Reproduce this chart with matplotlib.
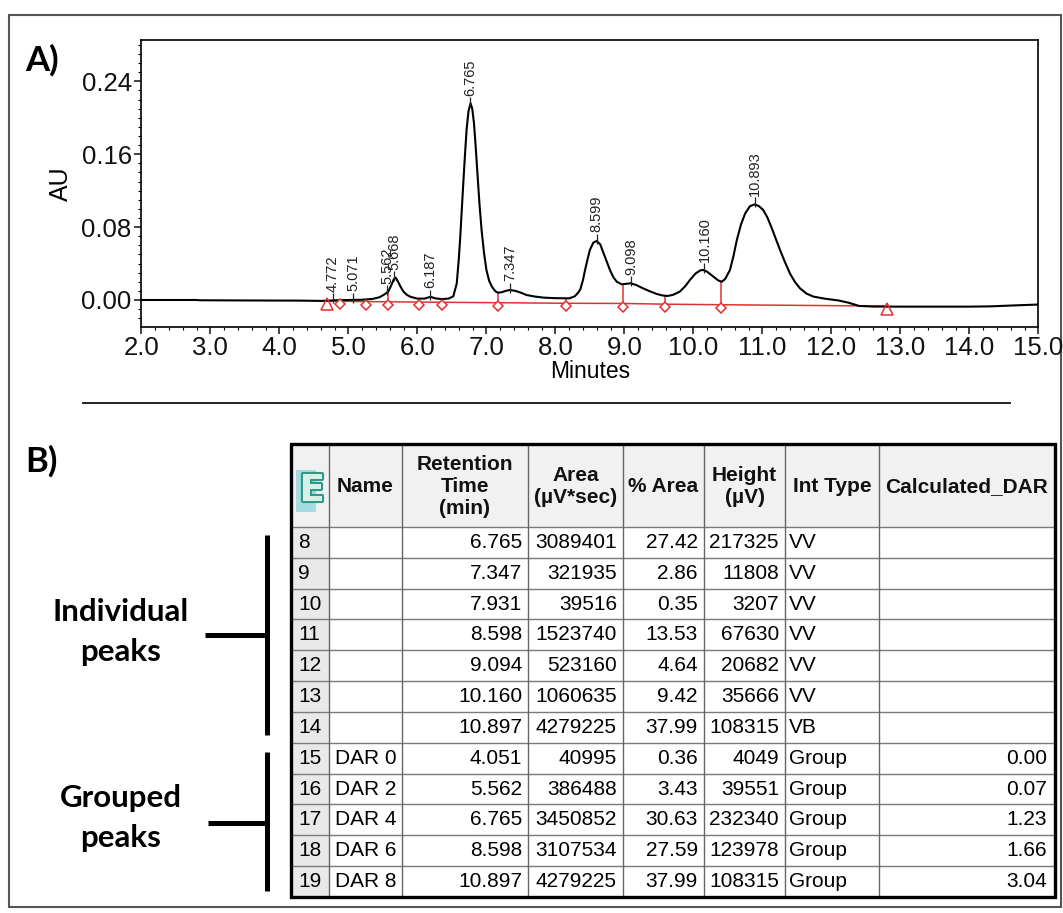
import numpy as np
import matplotlib
matplotlib.use('Agg')
import matplotlib.pyplot as plt
from matplotlib.patches import Rectangle
from matplotlib.ticker import MultipleLocator, FormatStrFormatter
import matplotlib.patheffects as pe

plt.rcParams['font.family'] = ['Liberation Sans', 'DejaVu Sans']

# --- chromatogram trace (minutes, AU)
trace_t = [2.00, 2.80, 2.85, 3.50, 4.30, 4.60, 4.70, 4.80, 5.00, 5.20, 5.35, 5.45,
           5.52, 5.58, 5.62, 5.66, 5.685, 5.72, 5.76, 5.80, 5.85, 5.90, 6.00, 6.10,
           6.19, 6.26, 6.35, 6.45, 6.52, 6.57, 6.60, 6.62, 6.665, 6.69, 6.713, 6.74,
           6.77, 6.795, 6.82, 6.845, 6.87, 6.90, 6.93, 6.965, 7.00, 7.04, 7.08, 7.13,
           7.17, 7.22, 7.28, 7.34, 7.42, 7.50, 7.58, 7.70, 7.83, 8.00, 8.20, 8.28,
           8.33, 8.36, 8.40, 8.43, 8.47, 8.50, 8.55, 8.60, 8.65, 8.69, 8.74, 8.79,
           8.84, 8.89, 8.96, 9.03, 9.09, 9.17, 9.27, 9.37, 9.47, 9.55, 9.62, 9.70,
           9.80, 9.88, 9.95, 10.03, 10.10, 10.14, 10.20, 10.29, 10.36, 10.41, 10.46,
           10.53, 10.58, 10.63, 10.69, 10.75, 10.82, 10.89, 10.95, 11.01, 11.07,
           11.13, 11.19, 11.255, 11.33, 11.40, 11.47, 11.545, 11.64, 11.74, 11.90,
           12.10, 12.25, 12.40, 12.60, 13.00, 14.00, 14.30, 14.70, 15.00]
trace_au = [0.0000, 0.0000, -0.0003, -0.0005, -0.0007, -0.0010, -0.0008, -0.0003,
            0.0000, 0.0003, 0.0012, 0.0030, 0.0060, 0.0095, 0.0160, 0.0230, 0.0245,
            0.0200, 0.0140, 0.0090, 0.0055, 0.0035, 0.0015, 0.0015, 0.0035, 0.0018,
            0.0010, 0.0015, 0.0040, 0.0180, 0.0450, 0.0680, 0.1280, 0.1600, 0.1870,
            0.2070, 0.2160, 0.2100, 0.1940, 0.1680, 0.1390, 0.1050, 0.0770, 0.0520,
            0.0330, 0.0210, 0.0146, 0.0095, 0.0080, 0.0085, 0.0100, 0.0110, 0.0100,
            0.0080, 0.0055, 0.0038, 0.0026, 0.0020, 0.0018, 0.0040, 0.0080, 0.0115,
            0.0220, 0.0330, 0.0460, 0.0550, 0.0630, 0.0648, 0.0610, 0.0530, 0.0430,
            0.0330, 0.0250, 0.0200, 0.0172, 0.0178, 0.0183, 0.0165, 0.0128, 0.0095,
            0.0066, 0.0050, 0.0044, 0.0055, 0.0090, 0.0150, 0.0220, 0.0290, 0.0325,
            0.0330, 0.0310, 0.0256, 0.0215, 0.0200, 0.0230, 0.0330, 0.0480, 0.0660,
            0.0830, 0.0950, 0.1030, 0.1050, 0.1030, 0.0990, 0.0910, 0.0800, 0.0680,
            0.0550, 0.0410, 0.0290, 0.0200, 0.0128, 0.0070, 0.0037, 0.0015, -0.0005,
            -0.0030, -0.0065, -0.0072, -0.0073, -0.0073, -0.0070, -0.0058, -0.0050]

peak_labels = ['4.772', '5.071', '5.562', '5.668', '6.187', '6.765', '7.347',
               '8.599', '9.098', '10.160', '10.893']

# integration baseline and its markers
base_t = [4.685, 5.57, 6.357, 7.17, 8.153, 8.975, 9.59, 10.40, 12.80]
base_au = [-0.0012, -0.0020, -0.0025, -0.0030, -0.0036, -0.0038, -0.0046, -0.0052, -0.0067]
drop_t = [4.878, 5.255, 5.57, 6.02, 6.357, 7.17, 8.153, 8.975, 9.59, 10.40]
start_end_t = [4.685, 12.80]

# --- peak table
row_no = [8, 9, 10, 11, 12, 13, 14, 15, 16, 17, 18, 19]
names = ['', '', '', '', '', '', '', 'DAR 0', 'DAR 2', 'DAR 4', 'DAR 6', 'DAR 8']
ret_time = ['6.765', '7.347', '7.931', '8.598', '9.094', '10.160', '10.897',
            '4.051', '5.562', '6.765', '8.598', '10.897']
area = [3089401, 321935, 39516, 1523740, 523160, 1060635, 4279225,
        40995, 386488, 3450852, 3107534, 4279225]
pct_area = [27.42, 2.86, 0.35, 13.53, 4.64, 9.42, 37.99, 0.36, 3.43, 30.63, 27.59, 37.99]
height = [217325, 11808, 3207, 67630, 20682, 35666, 108315,
          4049, 39551, 232340, 123978, 108315]
int_type = ['VV', 'VV', 'VV', 'VV', 'VV', 'VV', 'VB',
            'Group', 'Group', 'Group', 'Group', 'Group']
calc_dar = [None, None, None, None, None, None, None, 0.00, 0.07, 1.23, 1.66, 3.04]
headers = ['', 'Name', 'Retention\nTime\n(min)', 'Area\n(µV*sec)', '% Area',
           'Height\n(µV)', 'Int Type', 'Calculated_DAR']

W, H = 1063, 913
fig = plt.figure(figsize=(W / 100, H / 100), dpi=100)

# overlay in pixel coordinates for frame, labels and table
ax0 = fig.add_axes([0, 0, 1, 1])
ax0.set_xlim(0, W)
ax0.set_ylim(H, 0)
ax0.axis('off')

ax0.add_patch(Rectangle((9, 15), 1052, 892, fill=False, ec='#555555', lw=1.5))
ax0.plot([83, 1010], [403, 403], color='#222222', lw=1.4)
ax0.text(25, 71, 'A)', fontsize=25, weight='bold', family=['Lato', 'DejaVu Sans'])
ax0.text(25, 472, 'B)', fontsize=25, weight='bold', family=['Lato', 'DejaVu Sans'])

# chromatogram
ax = fig.add_axes([141.4 / W, 1 - 326.5 / H, 897 / W, 286.5 / H])
ax.plot(trace_t, trace_au, color='black', lw=1.5, zorder=3)
ax.plot(base_t, base_au, color='#e03030', lw=1.1, zorder=2)
drop_base = np.interp(drop_t, base_t, base_au)
drop_top = np.interp(drop_t, trace_t, trace_au)
ax.vlines(drop_t, drop_base, drop_top, color='#e03030', lw=1.1, zorder=2)
ax.plot(drop_t, drop_base - 0.0035, ls='none', marker='D', ms=5.5, mfc='white',
        mec='#e03030', mew=1.1, zorder=4)
ax.plot(start_end_t, np.interp(start_end_t, base_t, base_au) - 0.0035, ls='none',
        marker='^', ms=8, mfc='none', mec='#e03030', mew=1.1, zorder=4)

peak_t = [float(s) for s in peak_labels]
peak_y = np.interp(peak_t, trace_t, trace_au)
ax.vlines(peak_t, peak_y - 0.003, peak_y + 0.008, color='#222222', lw=0.9, zorder=4)
for lab, pt, py in zip(peak_labels, peak_t, peak_y):
    ax.text(pt, py + 0.0095, lab, rotation=90, ha='center', va='bottom',
            fontsize=10.5, color='#222222')

ax.set_xlim(2, 15)
ax.set_ylim(-0.0291, 0.2854)
ax.set_xticks(np.arange(2, 15.01, 1.0))
ax.set_yticks([0.0, 0.08, 0.16, 0.24])
ax.xaxis.set_major_formatter(FormatStrFormatter('%.1f'))
ax.yaxis.set_major_formatter(FormatStrFormatter('%.2f'))
ax.xaxis.set_minor_locator(MultipleLocator(0.2))
ax.yaxis.set_minor_locator(MultipleLocator(0.01))
ax.tick_params(which='major', direction='out', length=5, width=1.1, labelsize=18.5,
               pad=2, colors='#111111')
ax.tick_params(which='minor', direction='out', length=2.5, width=0.8)
for s in ax.spines.values():
    s.set_linewidth(1.2)
ax.set_ylabel('AU', fontsize=18, labelpad=6)
ax.set_xlabel('Minutes', fontsize=16.5, labelpad=0)

# table
col_x = [291, 329, 402, 528, 623, 704, 785, 879, 1055]
top, head_bot, bot = 444, 527, 897
row_h = (bot - head_bot) / len(row_no)
fs = 15

ax0.add_patch(Rectangle((col_x[0], top), col_x[-1] - col_x[0], head_bot - top,
                        fc='#f1f1f1', ec='none'))
ax0.add_patch(Rectangle((col_x[0], head_bot), col_x[1] - col_x[0], bot - head_bot,
                        fc='#e9e9e9', ec='none'))
for i in range(len(row_no) + 1):
    y = head_bot + i * row_h
    ax0.plot([col_x[0], col_x[-1]], [y, y], color='#7a7a7a', lw=1.0)
for x in col_x[1:-1]:
    ax0.plot([x, x], [top, bot], color='#666666', lw=1.0)
ax0.add_patch(Rectangle((col_x[0], top), col_x[-1] - col_x[0], bot - top,
                        fill=False, ec='black', lw=2.4, zorder=5))

# Empower icon in the corner cell
ax0.add_patch(Rectangle((296, 470), 20, 42, fc='#a7dbe2', ec='none'))
ax0.text(312, 491, 'E', fontsize=27, weight='bold', ha='center', va='center',
         color='#d9f0e6', family='DejaVu Sans',
         path_effects=[pe.withStroke(linewidth=3, foreground='#2e9a86')])

for j, h in enumerate(headers):
    if h:
        ax0.text((col_x[j] + col_x[j + 1]) / 2, (top + head_bot) / 2 + 1, h,
                 ha='center', va='center', fontsize=fs, weight='bold',
                 linespacing=1.2, color='#111111')

pad = 6
for i in range(len(row_no)):
    yc = head_bot + (i + 0.5) * row_h
    ax0.text(col_x[0] + 7, yc, str(row_no[i]), ha='left', va='center', fontsize=fs)
    ax0.text(col_x[1] + pad, yc, names[i], ha='left', va='center', fontsize=fs)
    ax0.text(col_x[3] - pad, yc, ret_time[i], ha='right', va='center', fontsize=fs)
    ax0.text(col_x[4] - pad, yc, str(area[i]), ha='right', va='center', fontsize=fs)
    ax0.text(col_x[5] - pad, yc, '%.2f' % pct_area[i], ha='right', va='center', fontsize=fs)
    ax0.text(col_x[6] - pad, yc, str(height[i]), ha='right', va='center', fontsize=fs)
    ax0.text(col_x[6] + 4, yc, int_type[i], ha='left', va='center', fontsize=fs)
    if calc_dar[i] is not None:
        ax0.text(col_x[8] - pad - 2, yc, '%.2f' % calc_dar[i], ha='right',
                 va='center', fontsize=fs)

# brackets and group labels
bfont = dict(fontsize=22.5, weight='bold', ha='center', va='center',
             family=['Lato', 'DejaVu Sans'])
ax0.text(121, 612, 'Individual', **bfont)
ax0.text(121, 652, 'peaks', **bfont)
ax0.text(121, 798, 'Grouped', **bfont)
ax0.text(121, 838, 'peaks', **bfont)
ax0.plot([267, 267], [535, 735], color='black', lw=3.6, solid_capstyle='butt')
ax0.plot([205, 267], [635, 635], color='black', lw=3.6, solid_capstyle='butt')
ax0.plot([267, 267], [752, 891], color='black', lw=3.6, solid_capstyle='butt')
ax0.plot([208, 267], [823, 823], color='black', lw=3.6, solid_capstyle='butt')

fig.savefig('out.png', dpi=100)
